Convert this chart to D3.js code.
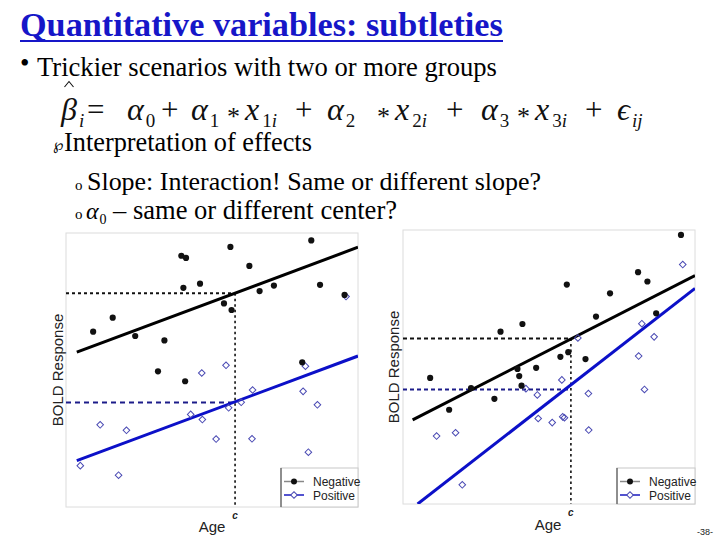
<!DOCTYPE html>
<html>
<head>
<meta charset="utf-8">
<script src="https://cdn.jsdelivr.net/npm/d3@7"></script>
<style>
  body { margin: 0; background: #fff; }
  svg { display: block; }
</style>
</head>
<body>
<svg id="slide" width="720" height="540"></svg>
<script>
// ---- values (arbitrary 0-100 units for Age / BOLD) ----
// left panel: same slope question
const negLeft = [[9.3,64.0],[16.0,69.1],[23.7,62.4],[33.7,60.8],[31.5,49.5],[40.8,45.9],
  [39.5,91.7],[41.1,90.9],[40.2,80.0],[45.9,81.5],[56.3,94.9],[54.1,74.3],[56.7,71.9],
  [62.8,88.0],[66.3,78.8],[71.2,80.8],[84.0,97.3],[87.0,81.1],[95.4,77.4],[80.9,52.8]];
const posLeft = [[4.9,15.1],[11.7,30.0],[18.0,11.6],[20.7,28.0],[42.7,33.8],[46.5,48.9],
  [46.7,31.9],[51.4,24.8],[54.8,51.7],[55.7,36.2],[60.0,38.2],[63.9,42.7],[63.7,24.9],
  [81.2,42.2],[82.0,51.4],[86.1,37.3],[83.0,20.0],[95.9,76.8]];
const negFitLeft = [[3.7,56.5],[100,94.8]];
const posFitLeft = [[3.7,16.9],[100,55.1]];
const centerLeft = 57.9;
const levelsLeft = [78.0, 38.1];

// right panel: different slopes
const negRight = [[9.3,46.0],[15.8,34.4],[23.3,42.3],[31.3,38.4],[33.4,62.9],[40.9,65.7],
  [39.2,49.3],[39.8,46.7],[40.6,43.2],[45.6,49.7],[53.9,53.7],[56.1,80.1],[56.6,55.4],
  [62.5,52.9],[66.1,68.4],[70.9,76.9],[80.5,84.6],[83.7,81.2],[86.7,69.6],[95.2,98.2]];
const posRight = [[11.5,24.8],[18.0,26.0],[20.3,7.0],[42.1,42.1],[46.0,39.8],[46.3,31.2],
  [51.1,29.7],[54.4,45.3],[54.7,31.8],[55.3,31.5],[59.9,60.6],[63.5,40.3],[63.6,27.0],
  [80.7,54.0],[81.8,65.8],[82.7,41.8],[86.0,61.0],[95.8,87.4]];
const negFitRight = [[3.3,30.7],[100,83.4]];
const posFitRight = [[5.0,0.0],[100,78.7]];
const centerRight = 57.5;
const levelsRight = [60.4, 41.8];

const legendLabels = ["Negative", "Positive"];
const xLabel = "Age", yLabel = "BOLD Response", centerLabel = "c";

const titleText = "Quantitative variables: subtleties";
const bullet1 = "Trickier scenarios with two or more groups";
const bullet2 = "Interpretation of effects";
const sub1 = "Slope: Interaction! Same or different slope?";
const sub2 = "– same or different center?";
const pageNo = "-38-";

const svg = d3.select("#slide");
const serif = '"Liberation Serif", "Times New Roman", serif';
const sans = '"Liberation Sans", Arial, sans-serif';

function txt(parent, x, y, size, s, fam) {
  return parent.append("text")
      .attr("x", x).attr("y", y)
      .attr("font-size", size)
      .style("font-family", fam || serif)
      .text(s);
}
// scale the font size so that the line spans the width seen in the slide
function fitWidth(sel, target) {
  const w = sel.node().getComputedTextLength();
  const s = +sel.attr("font-size");
  if (w > 0) sel.attr("font-size", (s * target / w).toFixed(2));
  return sel;
}

// ---- slide text ----
fitWidth(txt(svg, 20, 36, 29, titleText).attr("font-weight", "bold").attr("fill", "#1616c8"), 483);
svg.append("line")
    .attr("x1", 20).attr("x2", 503).attr("y1", 41).attr("y2", 41)
    .attr("stroke", "#1616c8").attr("stroke-width", 2);

txt(svg, 20, 72, 27, "•");
fitWidth(txt(svg, 37, 76, 24, bullet1), 460);

// equation: base symbol + subscript in one text element per term
const eqTerms = [
  { x: 61, b: "β", it: true, sub: [["i", true]] },
  { x: 87, b: "=" },
  { x: 127, b: "α", it: true, sub: [["0", false]] },
  { x: 161, b: "+" },
  { x: 191, b: "α", it: true, sub: [["1", false]] },
  { x: 227, b: "*", star: true },
  { x: 245, b: "x", it: true, sub: [["1", false], ["i", true]] },
  { x: 295, b: "+" },
  { x: 327, b: "α", it: true, sub: [["2", false]] },
  { x: 377, b: "*", star: true },
  { x: 395, b: "x", it: true, sub: [["2", false], ["i", true]] },
  { x: 446, b: "+" },
  { x: 481, b: "α", it: true, sub: [["3", false]] },
  { x: 517, b: "*", star: true },
  { x: 535, b: "x", it: true, sub: [["3", false], ["i", true]] },
  { x: 585, b: "+" },
  { x: 617, b: "ϵ", it: true, sub: [["ij", true]] }
];
const eq = svg.append("g").attr("fill", "#111");
eqTerms.forEach(t => {
  const el = eq.append("text")
      .attr("x", t.x).attr("y", t.star ? 125 : 120)
      .style("font-family", serif);
  el.append("tspan")
      .attr("font-size", t.star ? 26 : (t.it ? 32 : 31))
      .attr("font-style", t.it ? "italic" : "normal")
      .text(t.b);
  (t.sub || []).forEach((s, k) => {
    const sp = el.append("tspan")
        .attr("font-size", 19)
        .attr("font-style", s[1] ? "italic" : "normal")
        .text(s[0]);
    if (k === 0) sp.attr("dy", 7).attr("dx", t.b === "x" ? 3 : 2);
  });
});
// hat accent over beta
eq.append("path")
    .attr("d", "M64.5,87 L69,81.5 L73.5,87")
    .attr("fill", "none").attr("stroke", "#111").attr("stroke-width", 1.1);

txt(svg, 53, 150, 15, "℘", '"DejaVu Sans"');
fitWidth(txt(svg, 64, 151, 23, bullet2), 248);

txt(svg, 75, 190, 15, "o");
fitWidth(txt(svg, 87, 190, 23, sub1), 454);

txt(svg, 75, 219, 15, "o");
const a0 = svg.append("text").attr("x", 86).attr("y", 219).style("font-family", serif);
a0.append("tspan").attr("font-size", 24).attr("font-style", "italic").text("α");
a0.append("tspan").attr("font-size", 14).attr("dy", 5).attr("dx", 1).text("0");
fitWidth(txt(svg, 113, 219, 23, sub2), 284);

txt(svg, 697, 535, 9, pageNo, sans).attr("fill", "#222");

// ---- scatter panels ----
function drawPanel(cfg, idx) {
  const x = d3.scaleLinear().domain([0, 100]).range([cfg.left, cfg.right]);
  const y = d3.scaleLinear().domain([0, 100]).range([cfg.bottom, cfg.top]);
  const g = svg.append("g");

  g.append("rect")
      .attr("x", cfg.left).attr("y", cfg.top)
      .attr("width", cfg.right - cfg.left).attr("height", cfg.bottom - cfg.top)
      .attr("fill", "#fff").attr("stroke", "#dcdcdc").attr("stroke-width", 1);

  const clipId = "clip" + idx;
  g.append("clipPath").attr("id", clipId).append("rect")
      .attr("x", cfg.left).attr("y", cfg.top)
      .attr("width", cfg.right - cfg.left).attr("height", cfg.bottom - cfg.top);
  const inner = g.append("g").attr("clip-path", `url(#${clipId})`);

  const line = d3.line().x(d => x(d[0])).y(d => y(d[1]));

  // reference lines at the centre value
  inner.append("line")
      .attr("x1", x(0)).attr("x2", x(cfg.center))
      .attr("y1", y(cfg.levels[0])).attr("y2", y(cfg.levels[0]))
      .attr("stroke", "#111").attr("stroke-width", 2).attr("stroke-dasharray", cfg.dashTop);
  inner.append("line")
      .attr("x1", x(0)).attr("x2", x(cfg.center))
      .attr("y1", y(cfg.levels[1])).attr("y2", y(cfg.levels[1]))
      .attr("stroke", "#1c1c8a").attr("stroke-width", 2).attr("stroke-dasharray", cfg.dashBottom);
  inner.append("line")
      .attr("x1", x(cfg.center)).attr("x2", x(cfg.center))
      .attr("y1", y(cfg.levels[0])).attr("y2", y(0))
      .attr("stroke", "#111").attr("stroke-width", 1.6).attr("stroke-dasharray", "2.5,3");

  inner.append("path").attr("d", line(cfg.negFit))
      .attr("fill", "none").attr("stroke", "#000").attr("stroke-width", 3);
  inner.append("path").attr("d", line(cfg.posFit))
      .attr("fill", "none").attr("stroke", "#0c10c8").attr("stroke-width", 3);

  const diamond = d3.symbol().type(d3.symbolSquare).size(22);
  inner.selectAll(".pos").data(cfg.pos).enter().append("path")
      .attr("class", "pos")
      .attr("d", diamond)
      .attr("transform", d => `translate(${x(d[0])},${y(d[1])}) rotate(45)`)
      .attr("fill", "none").attr("stroke", "#4b4bb4").attr("stroke-width", 1);
  inner.selectAll(".neg").data(cfg.neg).enter().append("circle")
      .attr("class", "neg")
      .attr("cx", d => x(d[0])).attr("cy", d => y(d[1]))
      .attr("r", 3.1).attr("fill", "#111");

  // legend
  const lg = g.append("g").attr("transform", `translate(${cfg.legendX},${cfg.legendY})`);
  lg.append("rect")
      .attr("width", cfg.right - cfg.legendX).attr("height", cfg.bottom - cfg.legendY)
      .attr("fill", "#fff").attr("stroke", "#c8c8c8");
  lg.append("line").attr("x1", 0).attr("x2", 0).attr("y1", 0).attr("y2", cfg.bottom - cfg.legendY)
      .attr("stroke", "#555").attr("stroke-width", 1.2);
  legendLabels.forEach((lab, i) => {
    const yy = 13.5 + i * 13.5;
    lg.append("line").attr("x1", 3).attr("x2", 23).attr("y1", yy).attr("y2", yy)
        .attr("stroke", i === 0 ? "#888" : "#1a1ac0").attr("stroke-width", 1.5);
    if (i === 0) {
      lg.append("circle").attr("cx", 13).attr("cy", yy).attr("r", 3).attr("fill", "#111");
    } else {
      lg.append("path").attr("d", diamond)
          .attr("transform", `translate(13,${yy}) rotate(45)`)
          .attr("fill", "#fff").attr("stroke", "#4b4bb4");
    }
    txt(lg, 32, yy + 4.5, 12, lab, sans).attr("fill", "#222");
  });

  // axis labels
  g.append("text")
      .attr("transform", `translate(${cfg.yLabelX},${cfg.yLabelY}) rotate(-90)`)
      .attr("text-anchor", "middle")
      .attr("font-size", 15).attr("fill", "#222")
      .style("font-family", sans)
      .text(yLabel);
  txt(g, cfg.xLabelX, cfg.xLabelY, 15, xLabel, sans)
      .attr("text-anchor", "middle").attr("fill", "#222");
  txt(g, x(cfg.center), cfg.bottom + 12, 10, centerLabel, sans)
      .attr("text-anchor", "middle").attr("font-style", "italic")
      .attr("font-weight", "bold").attr("fill", "#222");
}

drawPanel({
  left: 66, right: 358, top: 233, bottom: 507,
  neg: negLeft, pos: posLeft, negFit: negFitLeft, posFit: posFitLeft,
  center: centerLeft, levels: levelsLeft,
  dashTop: "3,3", dashBottom: "5,4",
  legendX: 281, legendY: 468,
  yLabelX: 63, yLabelY: 370, xLabelX: 212, xLabelY: 532
}, 0);

drawPanel({
  left: 403, right: 695, top: 230, bottom: 504,
  neg: negRight, pos: posRight, negFit: negFitRight, posFit: posFitRight,
  center: centerRight, levels: levelsRight,
  dashTop: "4,3", dashBottom: "4,3",
  legendX: 617, legendY: 468,
  yLabelX: 399, yLabelY: 367, xLabelX: 548, xLabelY: 530
}, 1);
</script>
</body>
</html>
